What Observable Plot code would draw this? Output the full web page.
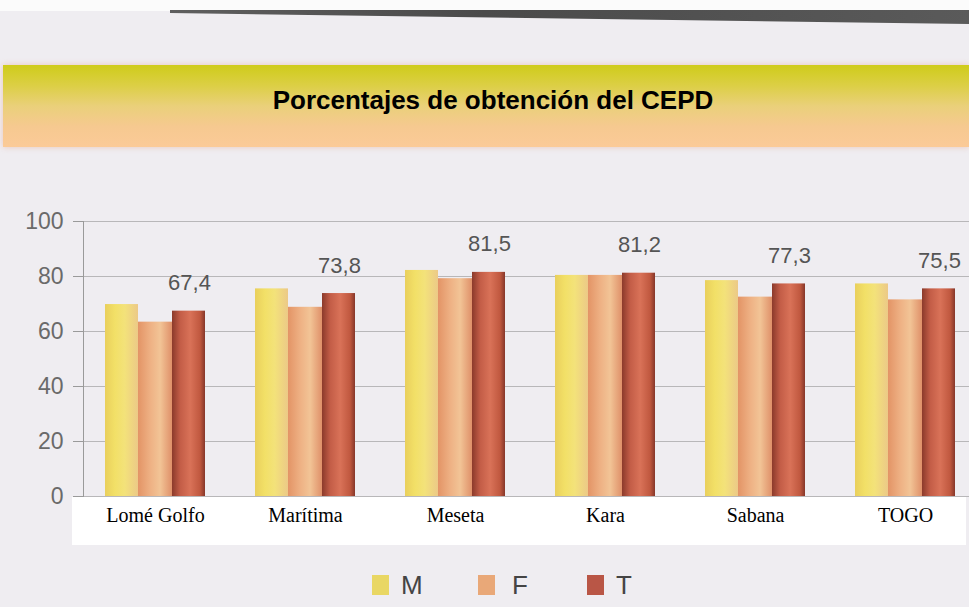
<!DOCTYPE html>
<html>
<head>
<meta charset="utf-8">
<script src="https://cdn.jsdelivr.net/npm/d3@7"></script>
<script src="https://cdn.jsdelivr.net/npm/@observablehq/plot@0.6"></script>
<style>
  html, body { margin: 0; padding: 0; }
  body { width: 969px; height: 607px; position: relative; overflow: hidden;
         background: #efedf1; font-family: "Liberation Sans", Arial, sans-serif; }
  #topwhite { position: absolute; left: 0; top: 0; width: 969px; height: 11px; background: #fbfbfb; }
  #stripe { position: absolute; left: 0; top: 0; width: 969px; height: 30px;
            background: linear-gradient(90deg, #6a6a6a, #4a4a4a 50%, #5a5a5a);
            clip-path: polygon(170px 10px, 969px 10px, 969px 24px, 170px 13px); }
  #title { position: absolute; left: 3px; top: 65px; width: 966px; height: 82px;
           background: linear-gradient(180deg, #cfcc1a 0%, #dccf45 25%, #ead07a 50%, #f6c990 75%, #fbca98 100%);
           box-shadow: 0 0 6px rgba(230,150,120,0.45); }
  #title span { position: absolute; left: 0; width: 980px; top: 20px; text-align: center;
                font-weight: bold; font-size: 26px; color: #000; letter-spacing: 0px; }
  #labelbox { position: absolute; left: 72px; top: 497px; width: 894px; height: 48px; background: #fff; }
  #chart { position: absolute; left: 0; top: 160px; }
  #legend { position: absolute; top: 569px; left: 0; width: 969px; height: 32px; }
  .lg { position: absolute; top: 0; font-size: 26px; color: #444; line-height: 32px; }
  .sw { position: absolute; top: 6px; width: 17px; height: 20px; }
</style>
</head>
<body>
<div id="topwhite"></div>
<div id="stripe"></div>
<div id="title"><span>Porcentajes de obtención del CEPD</span></div>
<div id="labelbox"></div>
<div id="chart"></div>
<div id="legend"></div>
<script>
const regions = ["Lomé Golfo", "Marítima", "Meseta", "Kara", "Sabana", "TOGO"];
const seriesNames = ["M", "F", "T"];
const valuesM = [69.8, 75.5, 82.2, 80.4, 78.5, 77.3];
const valuesF = [63.4, 68.8, 79.2, 80.4, 72.5, 71.5];
const valuesT = [67.4, 73.8, 81.5, 81.2, 77.3, 75.5];
const yTicks = [0, 20, 40, 60, 80, 100];
const legendColors = ["#e9d764", "#e9a878", "#b95646"];

const seriesValues = {M: valuesM, F: valuesF, T: valuesT};
const rows = s => regions.map((r, i) => ({region: r, series: s, value: seriesValues[s][i]}));
const fmt = v => v.toFixed(1).replace(".", ",");

// position of each series inside a region group (insets on a 100px band)
const insets = {M: [0, 67], F: [33, 33], T: [67, 0]};

const svg = Plot.plot({
  width: 969,
  height: 400,
  marginTop: 61,
  marginBottom: 64,
  marginLeft: 83,
  marginRight: 0,
  style: {background: "transparent", overflow: "visible"},
  x: {type: "band", domain: regions, range: [55, 1005], padding: 1/3, label: null},
  y: {domain: [0, 100], label: null},
  marks: [
    Plot.gridY(yTicks, {stroke: "#8a8a8a", strokeOpacity: 0.55, strokeWidth: 1}),
    Plot.axisY(yTicks, {tickSize: 10, tickPadding: 10, stroke: "#9a9a9a", fill: "#6a6a6a",
      fontSize: 23, fontFamily: "Liberation Sans, Arial, sans-serif", label: null}),
    Plot.frame({anchor: "left", stroke: "#9a9a9a"}),
    ...seriesNames.map(s => Plot.barY(rows(s), {
      x: "region", y: "value", fill: `url(#grad-${s})`,
      insetLeft: insets[s][0], insetRight: insets[s][1]
    })),
    Plot.text(rows("T"), {x: "region", y: "value", text: d => fmt(d.value), dx: 34, dy: -28,
      fontSize: 22, fill: "#555", fontFamily: "Liberation Sans, Arial, sans-serif"}),
    Plot.axisX({tickSize: 0, tickPadding: 11, fontSize: 20, fill: "#000",
      fontFamily: "Liberation Serif, Times New Roman, serif", label: null})
  ]
});

const defs = d3.select(svg).insert("defs", ":first-child");
const gradStops = {
  M: [[0, "#e9cf5c"], [0.3, "#f2e067"], [0.6, "#f3e27a"], [1, "#ecc987"]],
  F: [[0, "#e39466"], [0.35, "#eeb083"], [0.65, "#f2c496"], [1, "#df9069"]],
  T: [[0, "#8b3a2b"], [0.25, "#c35d47"], [0.55, "#d97258"], [0.85, "#c0583f"], [1, "#86372a"]]
};
for (const s of seriesNames) {
  const g = defs.append("linearGradient").attr("id", `grad-${s}`)
    .attr("x1", "0").attr("x2", "1").attr("y1", "0").attr("y2", "0");
  for (const [o, c] of gradStops[s]) g.append("stop").attr("offset", o).attr("stop-color", c);
}
document.getElementById("chart").appendChild(svg);

// legend
const legend = document.getElementById("legend");
const swX = [372, 478, 587];
const txX = [401, 512, 616];
seriesNames.forEach((s, i) => {
  const sw = document.createElement("div");
  sw.className = "sw"; sw.style.left = swX[i] + "px"; sw.style.background = legendColors[i];
  legend.appendChild(sw);
  const t = document.createElement("div");
  t.className = "lg"; t.style.left = txX[i] + "px"; t.textContent = s;
  legend.appendChild(t);
});
</script>
</body>
</html>
